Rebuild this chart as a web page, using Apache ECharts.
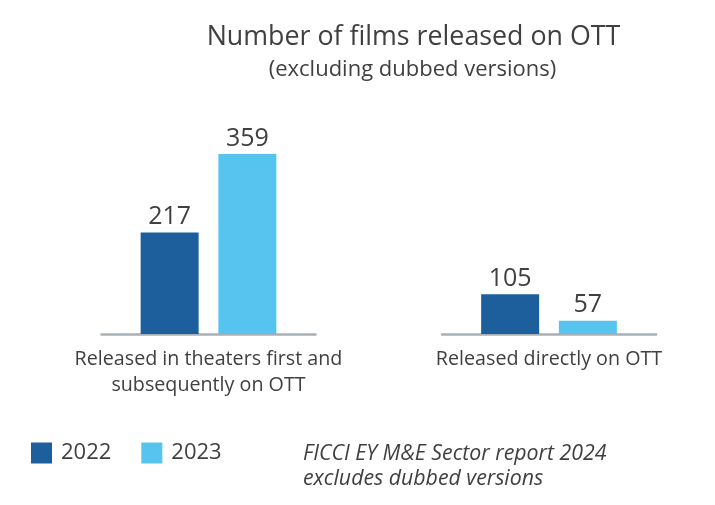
<!DOCTYPE html>
<html>
<head>
<meta charset="utf-8">
<script src="https://cdn.jsdelivr.net/npm/echarts@6/dist/echarts.min.js"></script>
<style>
  html, body { margin: 0; padding: 0; background: #fff; }
  #chart { width: 715px; height: 505px; }
</style>
</head>
<body>
<div id="chart"></div>
<script>
// 数据
const categories = ['Released in theaters first and\nsubsequently on OTT', 'Released directly on OTT'];
const years = ['2022', '2023'];
const values2022 = [217, 105];
const values2023 = [359, 57];

const textColor = '#404040';
const colors = ['#1c5f9c', '#57c4f0'];
const font = 'Open Sans';

let chart = echarts.init(document.getElementById('chart'));

// 每个分组一个 grid
const gridLefts = [101.5, 442];
let grid = [], xAxis = [], yAxis = [], series = [];
categories.forEach(function (cat, i) {
  grid.push({ left: gridLefts[i], width: 214, top: 131.4, bottom: 171 });
  xAxis.push({
    type: 'category',
    gridIndex: i,
    data: [cat],
    axisLine: { lineStyle: { color: '#a9b0b6', width: 2.5 } },
    axisTick: { show: false },
    axisLabel: {
      color: textColor,
      fontFamily: font,
      fontSize: 19.7,
      lineHeight: 26,
      margin: 12,
      interval: 0
    }
  });
  yAxis.push({
    type: 'value',
    gridIndex: i,
    min: 33,   // 原图纵轴不是从0开始
    max: 400,
    show: false,
    splitLine: { show: false }
  });
  [values2022, values2023].forEach(function (vals, j) {
    series.push({
      name: years[j],
      type: 'bar',
      xAxisIndex: i,
      yAxisIndex: i,
      data: [vals[i]],
      barWidth: 58,
      barGap: '34%',
      itemStyle: { color: colors[j] },
      label: {
        show: true,
        position: 'top',
        distance: 3,
        color: textColor,
        fontFamily: font,
        fontSize: 25
      }
    });
  });
});

let option = {
  animation: false,
  color: colors,
  grid: grid,
  xAxis: xAxis,
  yAxis: yAxis,
  series: series,
  legend: {
    data: years,
    left: 31,
    top: 442,
    padding: 0,
    icon: 'rect',
    itemWidth: 21,
    itemHeight: 21,
    itemGap: 30,
    textStyle: { color: textColor, fontFamily: font, fontSize: 22, padding: [0, 0, 0, 4] }
  },
  graphic: [
    {
      type: 'text',
      style: {
        text: 'Number of films released on OTT',
        x: 413.5, y: 37,
        textAlign: 'center', textVerticalAlign: 'middle',
        font: '26.8px "Open Sans"', fill: textColor
      }
    },
    {
      type: 'text',
      style: {
        text: '(excluding dubbed versions)',
        x: 412.5, y: 70,
        textAlign: 'center', textVerticalAlign: 'middle',
        font: '22px "Open Sans"', fill: textColor
      }
    },
    {
      type: 'text',
      style: {
        text: 'FICCI EY M&E Sector report 2024\nexcludes dubbed versions',
        x: 303, y: 441,
        lineHeight: 25,
        font: 'italic 21.3px "Open Sans"', fill: textColor
      }
    }
  ]
};

chart.setOption(option);
</script>
</body>
</html>
